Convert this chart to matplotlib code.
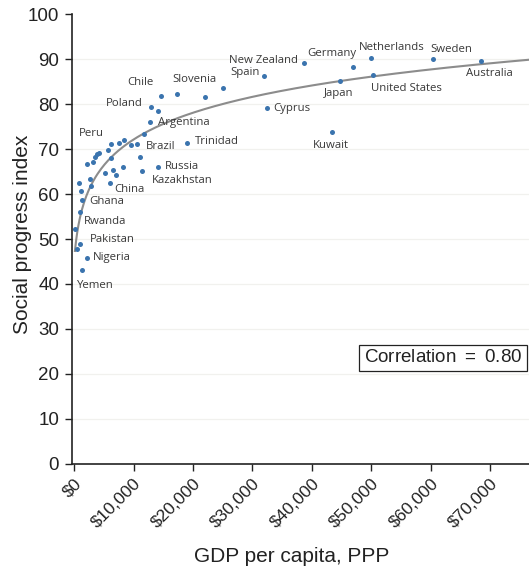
import numpy as np
import matplotlib
matplotlib.use('Agg')
import matplotlib.pyplot as plt

# GDP per capita (PPP, $) and social progress index
gdp = [31950, 24990, 22060, 17350, 14600, 12970, 14100, 12830, 11790, 32500,
       18980, 10560, 9550, 8370, 7610, 6130, 5790, 6130, 4160, 3820,
       3490, 3150, 2220, 11150, 8200, 6600, 6970, 5120, 11450, 14050,
       2680, 6100, 2860, 790, 1210, 1330, 1040, 240, 960, 500,
       2190, 1300, 38680, 46940, 49850, 44800, 50190, 60290, 68440, 43350]
spi = [86.2, 83.6, 81.5, 82.3, 81.7, 79.4, 78.5, 75.9, 73.3, 79.1,
       71.4, 71.1, 70.8, 72.1, 71.4, 71.1, 69.7, 67.9, 69.2, 68.9,
       68.3, 67.2, 66.6, 68.2, 66.1, 65.4, 64.2, 64.7, 65.1, 66.1,
       63.4, 62.5, 61.8, 62.4, 60.7, 58.6, 56.0, 52.2, 49.0, 47.8,
       45.8, 43.1, 89.1, 88.2, 90.3, 85.2, 86.4, 90.1, 89.6, 73.8]

countries = ['New Zealand', 'Spain', 'Chile', 'Slovenia', 'Poland', 'Argentina',
             'Peru', 'Brazil', 'Trinidad', 'Russia', 'Kazakhstan', 'China',
             'Ghana', 'Rwanda', 'Pakistan', 'Nigeria', 'Yemen', 'Cyprus',
             'Germany', 'Netherlands', 'Sweden', 'Australia', 'Japan',
             'United States', 'Kuwait']
# where each country name sits (left edge, vertical centre)
label_pos = [(26050, 89.6), (26220, 87.0), (8990, 84.7), (16570, 85.4),
             (5340, 80.2), (14050, 75.8), (790, 73.4), (12020, 70.5),
             (20330, 71.6), (15320, 66.1), (13030, 62.9), (6740, 61.1),
             (2480, 58.4), (1680, 53.8), (2640, 50.0), (3200, 45.8),
             (570, 39.6), (33510, 79.1), (39140, 91.3), (47830, 92.6),
             (59900, 92.2), (65910, 86.8), (42100, 82.3), (49970, 83.4),
             (40080, 70.7)]

# logarithmic trend line y = a + b*ln(x + c)
fit_a, fit_b, fit_c = -10.3, 8.9, 500
correlation = 0.80

xticks = np.arange(0, 80000, 10000)
yticks = np.arange(0, 101, 10)

plt.rcParams['font.family'] = ['Liberation Sans', 'DejaVu Sans']
plt.rcParams['mathtext.fontset'] = 'custom'
plt.rcParams['mathtext.rm'] = 'Liberation Sans'

fig = plt.figure(figsize=(5.29, 5.70), dpi=100)
ax = fig.add_axes([0.1355, 0.186, 0.8645, 0.7894])

for yv in yticks[1:-1]:
    ax.axhline(yv, color='#f1f1ee', lw=0.9, zorder=0)

xs = np.linspace(150, 76500, 400)
ax.plot(xs, fit_a + fit_b * np.log(xs + fit_c), color='#8c8c8c', lw=1.5, zorder=2)
ax.scatter(gdp, spi, s=13, color='#3b74ae', zorder=3, linewidths=0)

for name, (lx, ly) in zip(countries, label_pos):
    ax.text(lx, ly, name, fontsize=8.2, color='#383838', ha='left', va='center',
            family=['Open Sans', 'DejaVu Sans'], zorder=4)

ax.text(75300, 23.6, 'Correlation $=$ {:.2f}'.format(correlation), fontsize=13.5,
        ha='right', va='center', color='#222222',
        bbox=dict(boxstyle='square,pad=0.25', fc='white', ec='#222222', lw=0.9))

ax.set_xlim(-400, 76500)
ax.set_ylim(0, 100)
ax.set_xticks(xticks)
ax.set_xticklabels(['${:,}'.format(v) for v in xticks], rotation=45, ha='right',
                   rotation_mode='anchor', fontsize=12.5, color='#222222')
ax.set_yticks(yticks)
ax.set_yticklabels([str(v) for v in yticks], fontsize=13.5, color='#222222')
ax.tick_params(axis='both', direction='out', length=5, width=1, color='#222222')
ax.tick_params(axis='y', pad=4)
for s in ['top', 'right']:
    ax.spines[s].set_visible(False)
for s in ['left', 'bottom']:
    ax.spines[s].set_linewidth(1.2)
    ax.spines[s].set_color('#222222')

ax.set_xlabel('GDP per capita, PPP', fontsize=15, color='#222222')
ax.xaxis.set_label_coords(0.48, -0.184)
ax.set_ylabel('Social progress index', fontsize=15, color='#222222')
ax.yaxis.set_label_coords(-0.087, 0.51)

fig.savefig('out.png', dpi=100)
